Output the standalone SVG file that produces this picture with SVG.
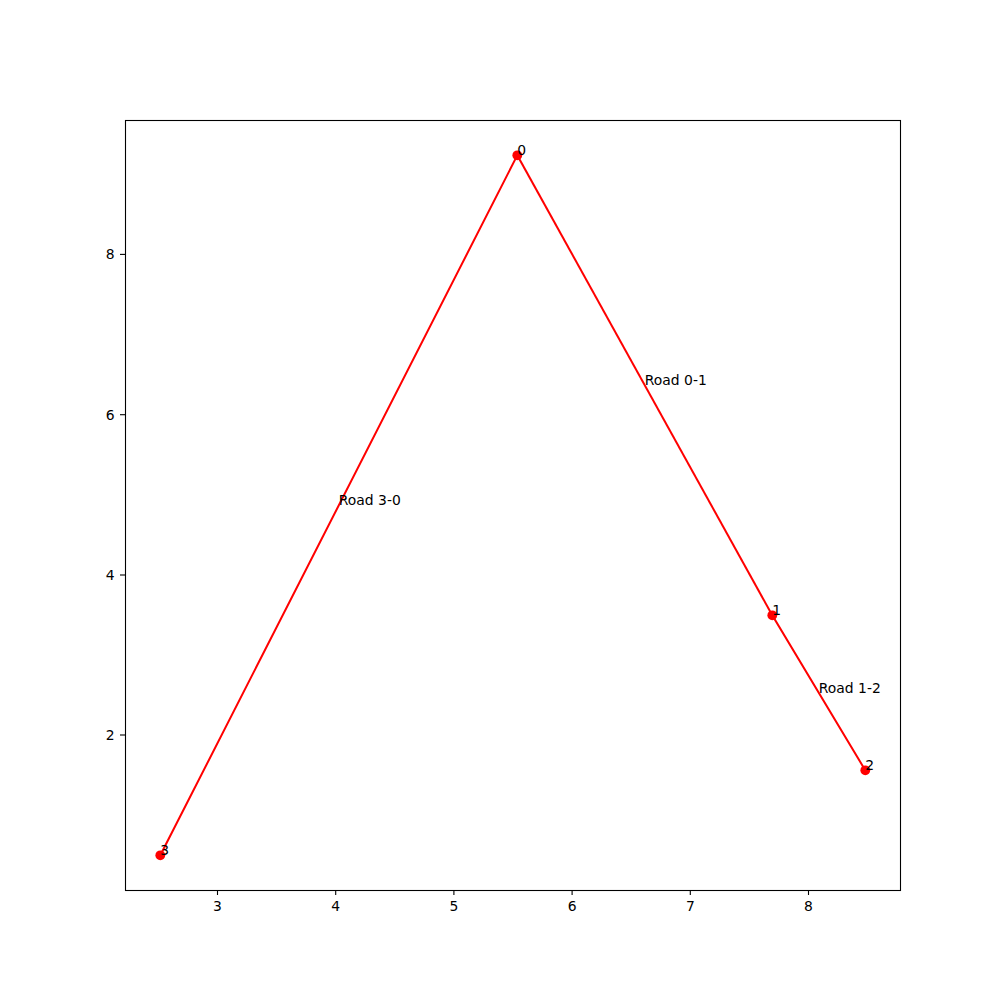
<svg xmlns="http://www.w3.org/2000/svg" width="1000" height="1000" viewBox="0 0 1000 1000">
<style>
text{font-family:"DejaVu Sans",sans-serif;font-size:13.9px;fill:#000}
.road{stroke:#f00;stroke-width:2;fill:none;stroke-linecap:square}
.pt{fill:#f00}
.tick{stroke:#000;stroke-width:1.1}
.xl{text-anchor:middle}
.yl{text-anchor:end}
</style>
<rect width="1000" height="1000" fill="#fff"/>
<g id="axes">
<rect x="125.5" y="120.5" width="775" height="770" fill="none" stroke="#000" stroke-width="1.1"/>
<g id="xticks">
<line class="tick" x1="217.5" y1="890" x2="217.5" y2="895"/><text class="xl" x="217.5" y="911">3</text>
<line class="tick" x1="335.7" y1="890" x2="335.7" y2="895"/><text class="xl" x="335.7" y="911">4</text>
<line class="tick" x1="453.9" y1="890" x2="453.9" y2="895"/><text class="xl" x="453.9" y="911">5</text>
<line class="tick" x1="572.1" y1="890" x2="572.1" y2="895"/><text class="xl" x="572.1" y="911">6</text>
<line class="tick" x1="690.3" y1="890" x2="690.3" y2="895"/><text class="xl" x="690.3" y="911">7</text>
<line class="tick" x1="808.5" y1="890" x2="808.5" y2="895"/><text class="xl" x="808.5" y="911">8</text>
</g>
<g id="yticks">
<line class="tick" x1="120" y1="735" x2="125" y2="735"/><text class="yl" x="114.5" y="740">2</text>
<line class="tick" x1="120" y1="575" x2="125" y2="575"/><text class="yl" x="114.5" y="580">4</text>
<line class="tick" x1="120" y1="414.7" x2="125" y2="414.7"/><text class="yl" x="114.5" y="419.7">6</text>
<line class="tick" x1="120" y1="254.4" x2="125" y2="254.4"/><text class="yl" x="114.5" y="259.4">8</text>
</g>
</g>
<g id="connectors">
<line class="road" x1="160.3" y1="855.3" x2="517.3" y2="155.3"/>
<line class="road" x1="517.3" y1="155.3" x2="772.3" y2="615.3"/>
<line class="road" x1="772.3" y1="615.3" x2="865.3" y2="770.3"/>
</g>
<g id="road-labels">
<text x="338.8" y="505.3">Road 3-0</text>
<text x="644.8" y="385.3">Road 0-1</text>
<text x="818.8" y="692.8">Road 1-2</text>
</g>
<g id="node-0"><circle class="pt" cx="517.3" cy="155.3" r="4.9"/><text x="517.3" y="155.3">0</text></g>
<g id="node-1"><circle class="pt" cx="772.3" cy="615.3" r="4.9"/><text x="772.3" y="615.3">1</text></g>
<g id="node-2"><circle class="pt" cx="865.3" cy="770.3" r="4.9"/><text x="865.3" y="770.3">2</text></g>
<g id="node-3"><circle class="pt" cx="160.3" cy="855.3" r="4.9"/><text x="160.3" y="855.3">3</text></g>
</svg>
